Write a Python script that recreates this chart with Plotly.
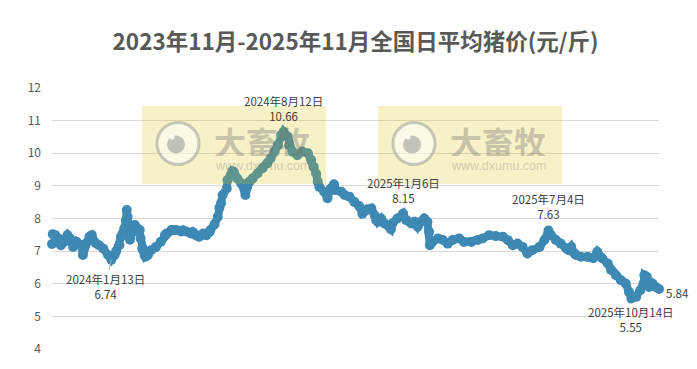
import plotly.graph_objects as go
from datetime import date

# ---------------- data ----------------
dates = [
    "2023-11-01","2023-11-02","2023-11-05","2023-11-09","2023-11-12","2023-11-16","2023-11-20","2023-11-23",
    "2023-11-27","2023-12-01","2023-12-07","2023-12-09","2023-12-13","2023-12-17","2023-12-20","2023-12-25",
    "2023-12-29","2024-01-03","2024-01-09","2024-01-13","2024-01-17","2024-01-19","2024-01-23","2024-01-25",
    "2024-01-27","2024-01-29","2024-01-31","2024-02-01","2024-02-02","2024-02-04","2024-02-05","2024-02-08",
    "2024-02-11","2024-02-14","2024-02-17","2024-02-18","2024-02-20","2024-02-21","2024-02-23","2024-02-24",
    "2024-02-27","2024-03-02","2024-03-08","2024-03-14","2024-03-19","2024-03-21","2024-03-27","2024-03-29",
    "2024-04-02","2024-04-08","2024-04-10","2024-04-14","2024-04-20","2024-04-22","2024-04-26","2024-04-30",
    "2024-05-03","2024-05-05","2024-05-09","2024-05-13","2024-05-14","2024-05-19","2024-05-23","2024-05-25",
    "2024-05-27","2024-05-29","2024-06-03","2024-06-04","2024-06-08","2024-06-10","2024-06-12","2024-06-16",
    "2024-06-21","2024-06-25","2024-06-26","2024-06-28","2024-07-01","2024-07-05","2024-07-11","2024-07-17",
    "2024-07-23","2024-07-27","2024-08-01","2024-08-05","2024-08-09","2024-08-12","2024-08-17","2024-08-19",
    "2024-08-23","2024-08-29","2024-09-04","2024-09-11","2024-09-15","2024-09-18","2024-09-21","2024-09-23",
    "2024-09-25","2024-10-01","2024-10-05","2024-10-09","2024-10-13","2024-10-15","2024-10-22","2024-10-26",
    "2024-11-01","2024-11-07","2024-11-13","2024-11-17","2024-11-23","2024-11-28","2024-12-02","2024-12-04",
    "2024-12-06","2024-12-10","2024-12-14","2024-12-22","2024-12-24","2024-12-30","2025-01-06","2025-01-10",
    "2025-01-16","2025-01-20","2025-01-24","2025-01-28","2025-02-01","2025-02-05","2025-02-07","2025-02-08",
    "2025-02-11","2025-02-18","2025-02-24","2025-03-02","2025-03-08","2025-03-16","2025-03-22","2025-03-31",
    "2025-04-08","2025-04-14","2025-04-22","2025-04-30","2025-05-09","2025-05-15","2025-05-21","2025-05-27",
    "2025-06-02","2025-06-08","2025-06-14","2025-06-23","2025-06-29","2025-07-04","2025-07-07","2025-07-13",
    "2025-07-19","2025-07-26","2025-07-29","2025-08-01","2025-08-05","2025-08-07","2025-08-13","2025-08-21",
    "2025-08-28","2025-09-02","2025-09-08","2025-09-15","2025-09-19","2025-09-25","2025-10-01","2025-10-07",
    "2025-10-11","2025-10-14","2025-10-20","2025-10-25","2025-10-29","2025-10-30","2025-11-02","2025-11-05",
    "2025-11-09","2025-11-13","2025-11-17",
]
prices = [
    7.22, 7.52, 7.49, 7.39, 7.18, 7.29, 7.49, 7.39,
    7.13, 7.29, 7.18, 6.88, 7.24, 7.44, 7.49, 7.24,
    7.18, 7.08, 6.88, 6.74, 6.88, 7.00, 7.18, 7.45,
    7.54, 7.70, 7.95, 8.26, 8.05, 7.60, 7.35, 7.59,
    7.80, 7.70, 7.65, 7.39, 7.08, 7.03, 6.88, 6.83,
    6.88, 7.03, 7.13, 7.29, 7.49, 7.54, 7.65, 7.64,
    7.65, 7.60, 7.64, 7.60, 7.54, 7.59, 7.49, 7.44,
    7.49, 7.54, 7.49, 7.59, 7.65, 7.82, 8.05, 8.33,
    8.47, 8.72, 8.92, 9.18, 9.33, 9.45, 9.42, 9.23,
    9.08, 8.87, 8.72, 8.97, 9.13, 9.23, 9.38, 9.54,
    9.69, 9.84, 10.05, 10.25, 10.56, 10.66, 10.51, 10.25,
    10.05, 9.94, 10.05, 10.00, 9.79, 9.59, 9.38, 9.13,
    8.97, 8.82, 8.62, 8.92, 9.05, 8.87, 8.82, 8.72,
    8.67, 8.51, 8.38, 8.15, 8.28, 8.31, 8.10, 7.95,
    7.90, 8.00, 7.85, 7.67, 7.85, 8.00, 8.15, 7.95,
    7.85, 7.90, 7.75, 7.90, 8.00, 7.90, 7.59, 7.18,
    7.28, 7.39, 7.34, 7.23, 7.34, 7.39, 7.28, 7.28,
    7.34, 7.39, 7.49, 7.46, 7.44, 7.34, 7.18, 7.23,
    7.13, 6.93, 7.03, 7.13, 7.34, 7.63, 7.49, 7.34,
    7.23, 7.08, 7.03, 7.13, 6.93, 6.88, 6.83, 6.83,
    6.78, 6.98, 6.78, 6.62, 6.42, 6.26, 6.11, 6.01,
    5.75, 5.55, 5.60, 5.80, 6.01, 6.26, 6.21, 5.90,
    6.01, 5.90, 5.84,
]

# labelled points
label_dates = ["2024-01-13", "2024-08-12", "2025-01-06", "2025-07-04", "2025-10-14"]
label_values = [6.74, 10.66, 8.15, 7.63, 5.55]
last_date = "2025-11-17"
last_value = 5.84

y_ticks = [4, 5, 6, 7, 8, 9, 10, 11, 12]
title_text = "2023年11月-2025年11月全国日平均猪价(元/斤)"

# ---------------- style ----------------
BLUE = "#3d89b4"
TXT = "#404040"
AX = "#595959"
FONT = "Noto Sans CJK SC"

W, H = 697, 369
L, R, T, B = 52, 38, 88, 20
PW, PH = W - L - R, H - T - B


def px(x, y):
    """pixel -> paper coords (decoration only)"""
    return (x - L) / PW, (H - B - y) / PH


fig = go.Figure()
fig.add_trace(go.Scatter(
    x=dates, y=prices, mode="lines+markers",
    line=dict(color=BLUE, width=8),
    marker=dict(color=BLUE, size=10),
    cliponaxis=False, showlegend=False, hoverinfo="x+y",
))

annotations = []


def fmt(d):
    dd = date.fromisoformat(d)
    return f"{dd.year}年{dd.month}月{dd.day}日"


shifts = [None, 23.7, 23.5, 23.7, -21.4]
for i, (d, v) in enumerate(zip(label_dates, label_values)):
    txt = f"{fmt(d)}<br>{v:.2f}"
    if i == 0:
        annotations.append(dict(
            x=d, y=v, xref="x", yref="y", text=txt, showarrow=True,
            arrowhead=0, arrowwidth=1, arrowcolor="#a6a6a6",
            ax=-6, ay=27, font=dict(family=FONT, size=11.5, color=TXT),
        ))
    else:
        annotations.append(dict(
            x=d, y=v, xref="x", yref="y", text=txt, showarrow=False,
            yshift=shifts[i], xanchor="center", yanchor="middle",
            font=dict(family=FONT, size=11.5, color=TXT),
        ))
annotations.append(dict(
    x=last_date, y=last_value, xref="x", yref="y", text=f"{last_value:.2f}",
    showarrow=False, xanchor="left", yanchor="middle", xshift=5, yshift=-4,
    font=dict(family=FONT, size=11.5, color=TXT),
))

# watermark
shapes = []
for bx in (142, 378):
    x0, y0 = px(bx, 184)
    x1, y1 = px(bx + 184, 106)
    shapes.append(dict(type="rect", xref="paper", yref="paper", x0=x0, x1=x1, y0=y0, y1=y1,
                       fillcolor="rgba(215,190,0,0.22)", line=dict(width=0), layer="above"))
    cx, cy = bx + 36, 143.5
    a0, b0 = px(cx - 21, cy + 21)
    a1, b1 = px(cx + 21, cy - 21)
    shapes.append(dict(type="circle", xref="paper", yref="paper", x0=a0, x1=a1, y0=b0, y1=b1,
                       fillcolor="rgba(255,255,255,0.55)",
                       line=dict(color="rgba(150,150,150,0.5)", width=3), layer="above"))
    a0, b0 = px(cx - 11, cy + 10)
    a1, b1 = px(cx + 7, cy - 8)
    shapes.append(dict(type="circle", xref="paper", yref="paper", x0=a0, x1=a1, y0=b0, y1=b1,
                       fillcolor="rgba(140,140,140,0.5)", line=dict(width=0), layer="above"))
    a0, b0 = px(cx - 8.5, cy - 4)
    a1, b1 = px(cx - 3.5, cy - 9)
    shapes.append(dict(type="circle", xref="paper", yref="paper", x0=a0, x1=a1, y0=b0, y1=b1,
                       fillcolor="rgba(255,255,255,0.8)", line=dict(width=0), layer="above"))
    tx, ty = px(bx + 120, 140.5)
    annotations.append(dict(x=tx, y=ty, xref="paper", yref="paper", text="<b>大畜牧</b>",
                            showarrow=False, xanchor="center", yanchor="middle", height=30,
                            font=dict(family=FONT, size=32, color="rgba(110,110,110,0.35)")))
    tx, ty = px(bx + 120, 165.5)
    annotations.append(dict(x=tx, y=ty, xref="paper", yref="paper", text="www.dxumu.com",
                            showarrow=False, xanchor="center", yanchor="middle", height=11,
                            font=dict(family="Liberation Sans", size=12.5, color="rgba(110,110,110,0.3)")))

fig.update_layout(
    width=W, height=H,
    margin=dict(l=L, r=R, t=T, b=B, pad=0),
    paper_bgcolor="white", plot_bgcolor="white",
    title=dict(text=f"<b>{title_text}</b>", x=0.5, xref="paper", y=1 - 42 / H, yanchor="middle",
               font=dict(family=FONT, size=22.5, color=AX)),
    xaxis=dict(range=["2023-11-01", "2025-11-17"], showticklabels=False, showgrid=False,
               zeroline=False, showline=False, ticks=""),
    yaxis=dict(range=[4, 12], tickvals=y_ticks, showgrid=True, gridcolor="#d9d9d9", gridwidth=1,
               zeroline=False, showline=False, ticks="", ticklabelstandoff=10,
               tickfont=dict(family=FONT, size=12, color=AX)),
    shapes=shapes,
    annotations=annotations,
    showlegend=False,
)

fig.write_html("out.html")
